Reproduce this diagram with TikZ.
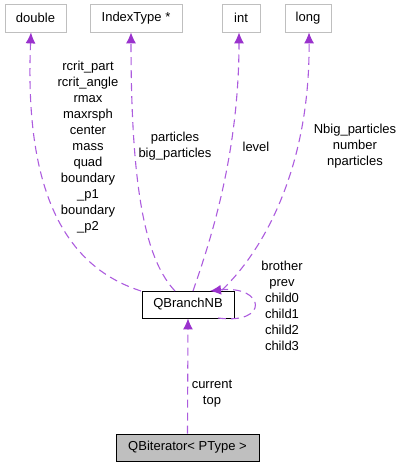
\documentclass[tikz,border=0pt]{standalone}
\usepackage{fontspec}
\setmainfont{Liberation Sans}
\usetikzlibrary{arrows.meta}
\definecolor{edgec}{HTML}{9A32CD}
\definecolor{edgeline}{HTML}{AC5CDE}
\definecolor{boxgray}{HTML}{BFBFBF}
\tikzset{
  typebox/.style={draw=boxgray, line width=0.8pt, fill=white, inner sep=0pt, font=\fontsize{13}{16}\selectfont},
  classbox/.style={draw=black, line width=0.9pt, fill=white, inner sep=0pt, font=\fontsize{13}{16}\selectfont},
  rel/.style={draw=edgeline, line width=1.1pt, dash pattern=on 8pt off 5pt, -{Latex[length=11pt,width=10pt,fill=edgec,color=edgec]}},
  lbl/.style={align=center, inner sep=0pt, font=\fontsize{13}{16}\selectfont}
}
\begin{document}
\begin{tikzpicture}[x=1pt,y=-1pt]
\useasboundingbox (0,0) rectangle (403,469);
% type boxes
\node[typebox, minimum width=61pt, minimum height=28pt] (dbl) at (35.5,18) {double};
\node[typebox, minimum width=92pt, minimum height=28pt] (idx) at (136,18) {IndexType *};
\node[typebox, minimum width=38pt, minimum height=28pt] (int) at (241,18) {int};
\node[typebox, minimum width=46pt, minimum height=28pt] (lng) at (308,18) {long};
% classes
\node[classbox, minimum width=92pt, minimum height=27pt] (qb) at (188,304.5) {QBranchNB};
\node[classbox, fill=boxgray, minimum width=143pt, minimum height=27pt] (qi) at (187.5,447.5) {QBiterator< PType >};
% edges
\coordinate (t1) at (141,291);
\coordinate (t2) at (175,291);
\coordinate (t3) at (193,291);
\coordinate (t4) at (222,290);
\draw[rel] (t1) .. controls (70,268) and (24,200) .. (dbl.south -| 31,0);
\draw[rel] (t2) .. controls (148,262) and (131,200) .. (idx.south -| 131,0);
\draw[rel] (t3) .. controls (207,250) and (239,160) .. (int.south -| 239,0);
\draw[rel] (t4) .. controls (262,252) and (310,170) .. (lng.south -| 309,0);
\coordinate (sl) at (218,318);
\coordinate (se) at (210,291);
\draw[rel] (sl) .. controls (270,325) and (265,285) .. (se);
\draw[rel] (qi.north) -- (qb.south);
% labels
\node[lbl] (l1) at (88,147) {rcrit\_part\\rcrit\_angle\\rmax\\maxrsph\\center\\mass\\quad\\boundary\\\_p1\\boundary\\\_p2};
\node[lbl] (l2) at (175,146) {particles\\big\_particles};
\node[lbl] (l3) at (256,147) {level};
\node[lbl] (l4) at (355,146) {Nbig\_particles\\number\\nparticles};
\node[lbl] (l5) at (282,306) {brother\\prev\\child0\\child1\\child2\\child3};
\node[lbl] (l6) at (212,394) {current\\top};
\end{tikzpicture}
\end{document}
